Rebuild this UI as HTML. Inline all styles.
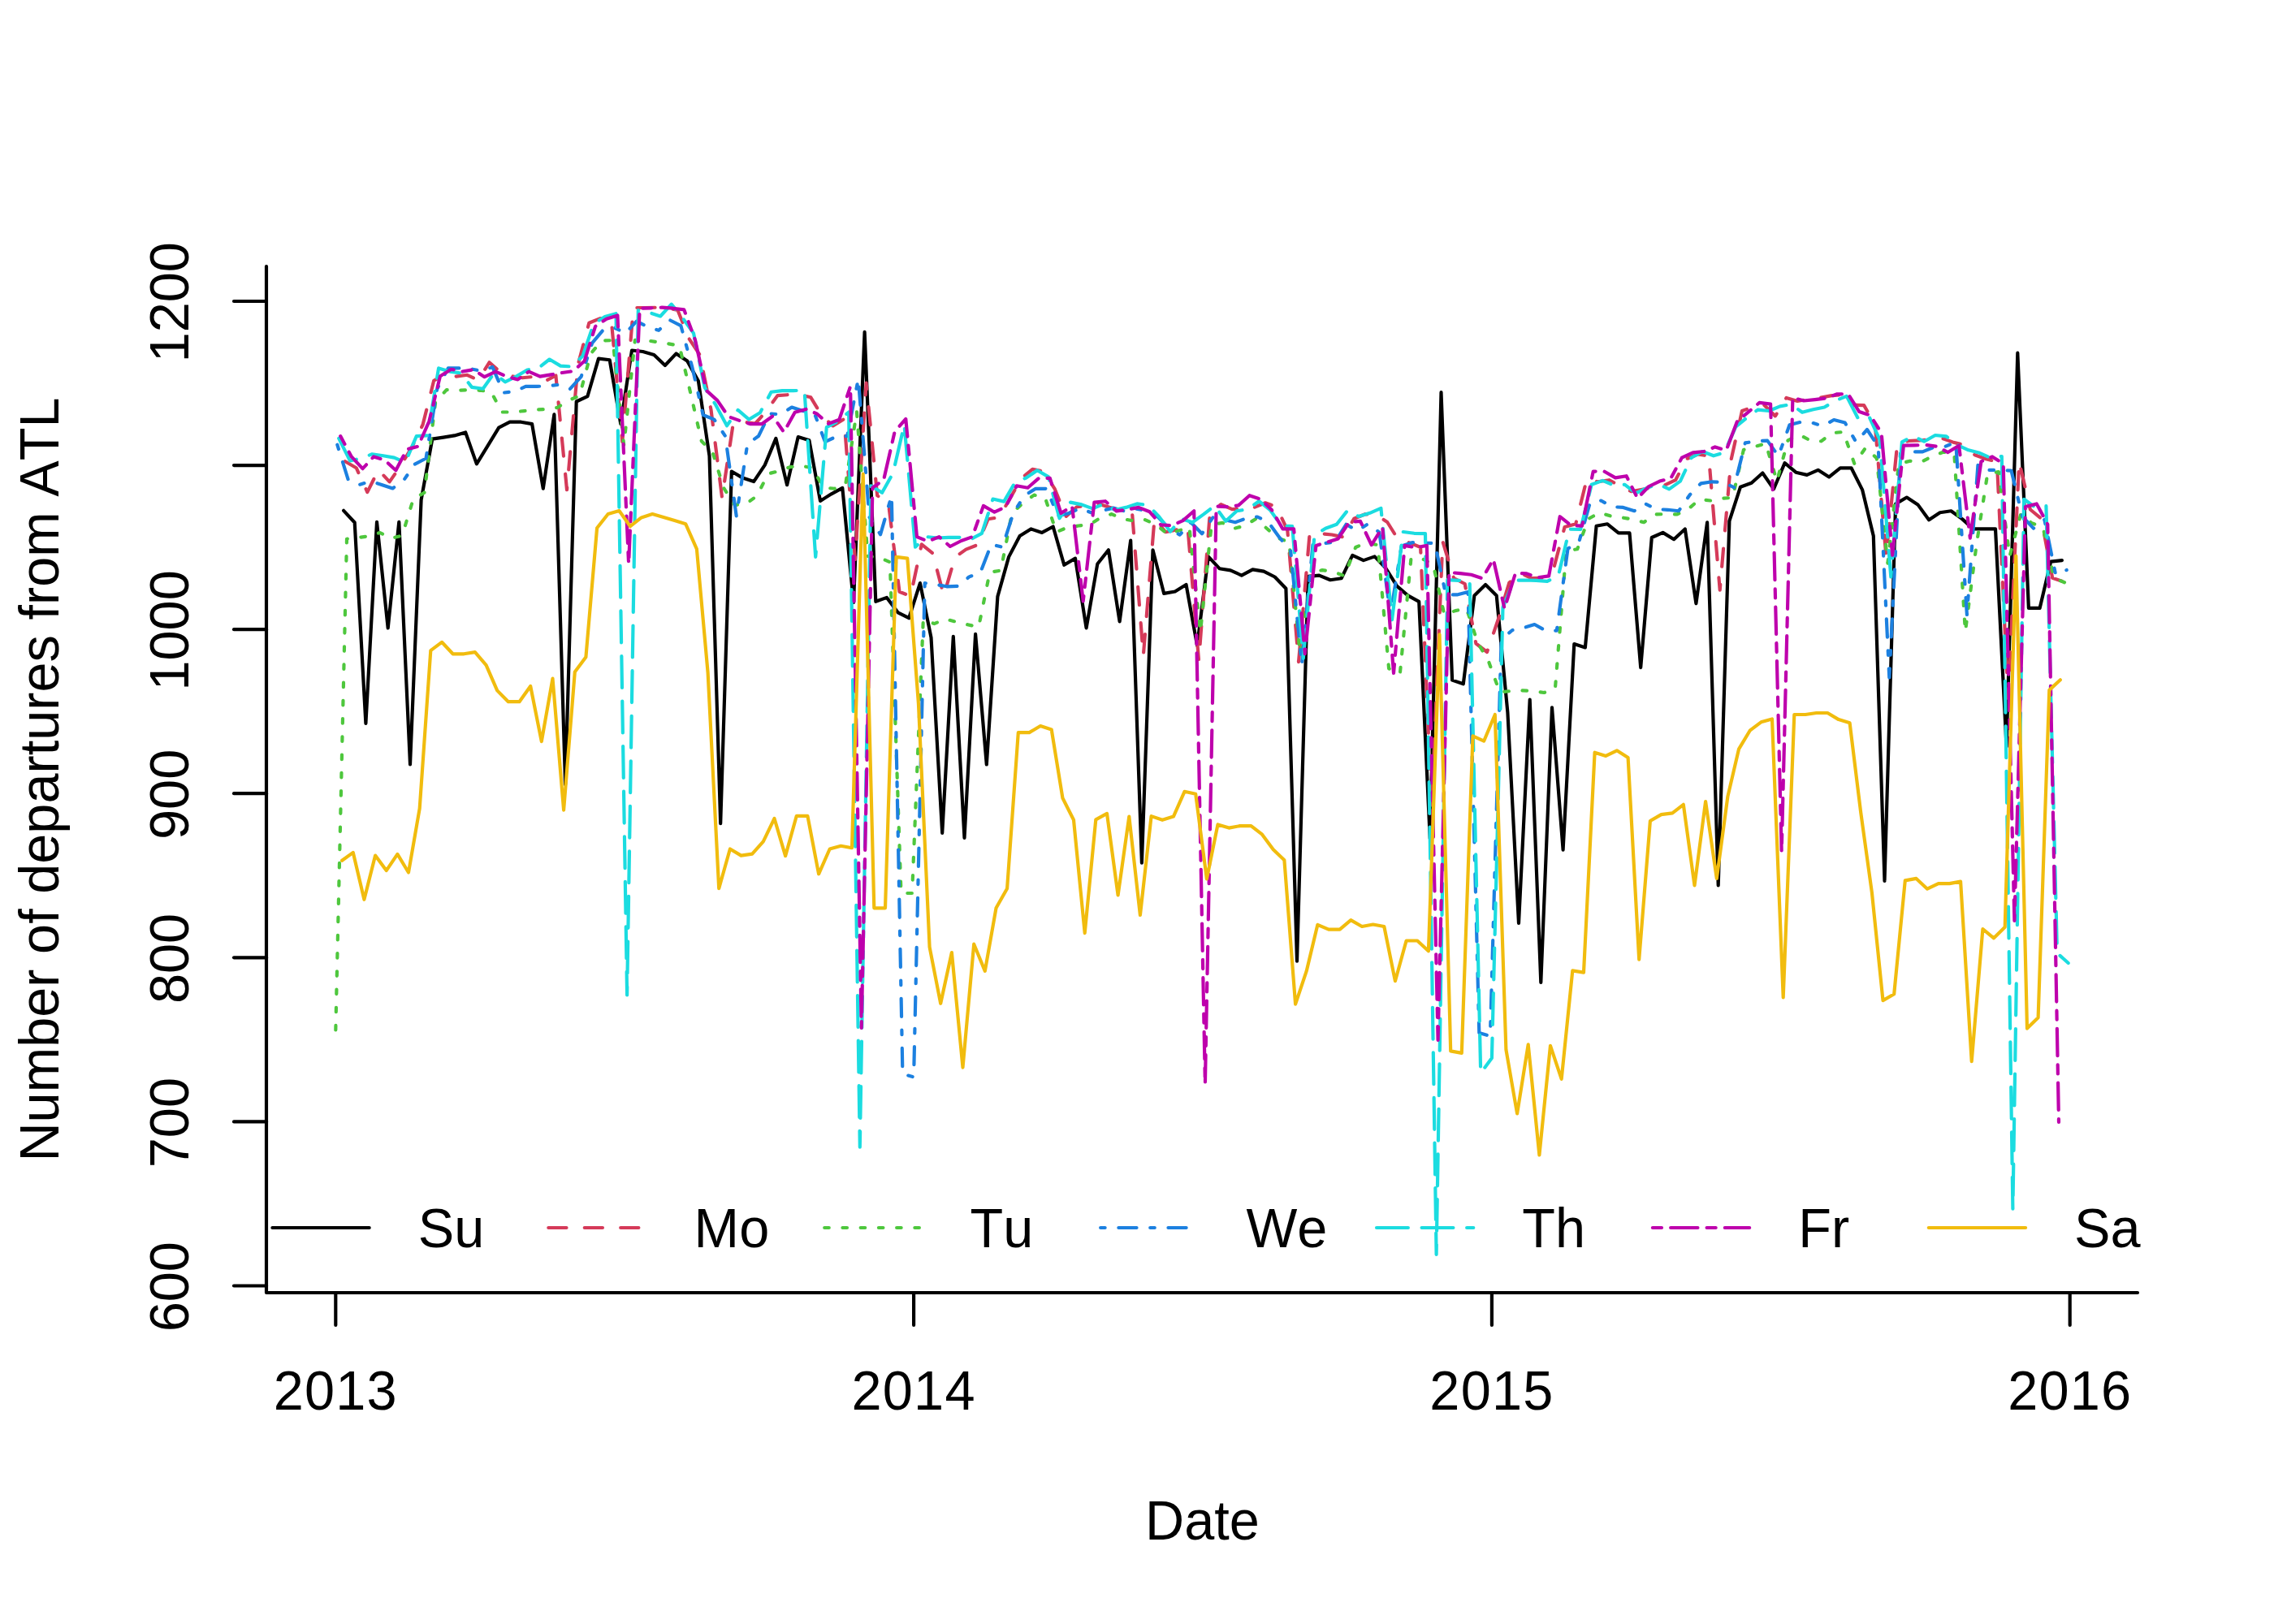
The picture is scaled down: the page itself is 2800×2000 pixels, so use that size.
<!DOCTYPE html>
<html><head><meta charset="utf-8"><title>ATL departures</title>
<style>
html,body{margin:0;padding:0;background:#fff;}
body{width:2800px;height:2000px;overflow:hidden;}
svg{display:block;}
text{font-family:"Liberation Sans",sans-serif;font-size:66.67px;fill:#000;font-kerning:none;}
.ax{stroke:#000;stroke-width:4.17;stroke-linecap:round;stroke-linejoin:round;fill:none;}
.ln{stroke-width:4.17;stroke-linecap:round;stroke-linejoin:round;fill:none;}
</style></head><body>
<svg width="2800" height="2000" viewBox="0 0 2800 2000">
<rect x="0" y="0" width="2800" height="2000" fill="#ffffff"/>
<polyline class="ln" stroke="#000000" points="423.1,628.8 436.7,643.5 450.4,891.0 464.0,642.8 477.7,773.5 491.3,642.8 505.0,941.5 518.6,615.7 532.3,540.6 545.9,538.6 559.6,536.4 573.2,532.5 586.9,571.4 600.5,549.2 614.2,526.6 627.8,519.7 641.5,519.7 655.1,522.1 668.8,601.7 682.4,510.3 696.1,966.2 709.7,494.5 723.4,488.1 737.0,441.6 750.7,443.3 764.3,522.1 778.0,431.5 791.6,433.0 805.3,436.9 818.9,450.0 832.6,435.4 846.2,444.5 859.9,469.2 873.5,561.5 887.2,1014.2 900.8,580.5 914.5,588.6 928.1,593.1 941.8,572.6 955.4,539.9 969.1,597.2 982.7,538.1 996.4,542.3 1010.0,616.9 1023.7,608.3 1037.3,600.9 1051.0,742.0 1064.6,408.8 1078.3,740.8 1091.9,735.9 1105.6,754.3 1119.2,761.2 1132.9,718.1 1146.5,785.1 1160.2,1026.0 1173.8,783.9 1187.5,1031.9 1201.1,780.9 1214.8,941.5 1228.4,734.6 1242.1,685.9 1255.7,660.0 1269.4,651.4 1283.0,655.9 1296.7,648.5 1310.3,695.8 1324.0,687.6 1337.6,773.5 1351.3,694.5 1364.9,677.3 1378.6,765.4 1392.2,665.5 1405.9,1062.7 1419.5,677.3 1433.2,730.9 1446.8,728.5 1460.5,719.9 1474.1,795.0 1487.8,685.4 1501.5,700.2 1515.1,702.4 1528.8,708.6 1542.4,701.4 1556.1,703.6 1569.7,710.5 1583.4,724.8 1597.0,1183.6 1610.7,709.8 1624.3,708.6 1638.0,714.2 1651.6,712.3 1665.3,683.9 1678.9,690.1 1692.6,685.4 1706.2,699.5 1719.9,721.6 1733.5,733.4 1747.2,740.8 1760.8,1032.7 1774.5,483.2 1788.1,837.6 1801.8,842.3 1815.4,733.4 1829.1,719.9 1842.7,733.4 1856.4,877.5 1870.0,1136.8 1883.7,861.5 1897.3,1210.0 1911.0,871.3 1924.6,1046.7 1938.3,793.0 1951.9,797.4 1965.6,647.7 1979.2,645.3 1992.9,656.4 2006.5,656.4 2020.2,822.1 2033.8,662.0 2047.5,655.9 2061.1,664.2 2074.8,651.4 2088.4,743.3 2102.1,643.3 2115.7,1090.5 2129.4,641.6 2143.0,599.7 2156.7,594.8 2170.3,582.5 2184.0,602.2 2197.6,570.1 2211.3,581.7 2224.9,584.9 2238.6,578.8 2252.2,587.4 2265.9,576.3 2279.5,576.3 2293.2,603.4 2306.8,660.0 2320.5,1084.9 2334.1,620.6 2347.8,612.5 2361.4,621.4 2375.1,640.3 2388.7,631.2 2402.4,629.3 2416.0,639.1 2429.7,651.4 2443.3,651.4 2457.0,651.4 2470.6,919.4 2484.3,434.7 2497.9,748.9 2511.6,748.9 2525.2,691.6 2538.9,690.1"/>
<polyline class="ln" stroke="#D53A59" stroke-dasharray="22.22,22.22" points="425.0,568.3 438.7,576.2 452.3,606.1 466.0,578.6 479.6,593.4 493.3,573.7 506.9,551.2 520.6,523.0 534.2,468.8 547.9,461.1 561.5,463.6 575.2,461.8 588.8,468.1 602.5,446.3 616.1,458.3 629.8,463.2 643.4,465.3 657.1,463.9 670.7,469.6 684.4,462.5 698.0,603.2 711.7,449.1 725.3,397.7 739.0,392.1 752.6,392.8 766.3,544.0 779.9,379.0 793.6,379.0 807.2,378.7 820.9,379.0 834.5,381.9 848.2,416.7 861.8,437.1 875.5,504.6 889.1,613.0 902.8,521.5 916.4,519.8 930.1,521.5 943.7,506.1 957.4,487.1 971.0,486.1 984.7,486.1 998.3,489.3 1012.0,512.0 1025.6,524.4 1039.3,516.0 1052.9,689.0 1066.6,471.7 1080.2,610.3 1093.9,619.4 1107.5,728.7 1121.2,734.3 1134.8,670.3 1148.5,681.5 1162.1,733.6 1175.8,686.4 1189.4,676.6 1203.1,671.2 1216.7,639.3 1230.4,637.0 1244.0,613.1 1257.7,589.2 1271.3,577.9 1285.0,580.7 1298.6,601.8 1312.3,636.2 1325.9,624.2 1339.6,622.8 1353.2,620.7 1366.9,624.9 1380.5,628.9 1394.2,633.4 1407.8,807.4 1421.5,639.0 1435.1,655.2 1448.8,652.4 1462.4,648.9 1476.1,813.7 1489.8,631.7 1503.4,621.1 1517.1,627.1 1530.7,626.6 1544.4,624.9 1558.0,619.3 1571.7,624.2 1585.3,653.1 1599.0,815.1 1612.6,657.1 1626.3,657.1 1639.9,658.5 1653.6,661.3 1667.2,638.8 1680.9,633.2 1694.5,633.9 1708.2,643.0 1721.8,664.8 1735.5,668.4 1749.1,674.0 1762.8,995.0 1776.4,666.9 1790.1,712.0 1803.7,719.0 1817.4,792.5 1831.0,803.0 1844.7,763.0 1858.3,717.6 1872.0,705.6 1885.6,712.0 1899.3,711.7 1912.9,700.7 1926.6,648.9 1940.2,645.3 1953.9,589.8 1967.5,593.3 1981.2,591.2 1994.8,598.2 2008.5,605.2 2022.1,602.7 2035.8,600.3 2049.4,597.5 2063.1,591.2 2076.7,565.1 2090.4,559.5 2104.0,561.6 2117.7,726.7 2131.3,567.2 2145.0,506.0 2158.6,501.1 2172.3,499.0 2185.9,512.4 2199.6,489.9 2213.2,493.9 2226.9,491.7 2240.5,489.8 2254.2,487.4 2267.8,486.0 2281.5,498.7 2295.1,499.1 2308.8,523.3 2322.4,685.2 2336.1,547.2 2349.7,543.0 2363.4,542.3 2377.0,541.3 2390.7,539.6 2404.3,544.4 2418.0,548.0 2431.6,560.2 2445.3,565.3 2458.9,568.6 2472.6,860.0 2486.2,568.4 2499.9,627.5 2513.5,638.7 2527.2,711.8 2540.8,716.4"/>
<polyline class="ln" stroke="#4EC73D" stroke-dasharray="5.56,16.67" points="413.3,1268.5 427.0,663.7 440.6,662.1 454.3,660.2 467.9,656.0 481.6,663.0 495.2,659.5 508.9,614.5 522.5,606.8 536.2,494.9 549.8,480.1 563.5,480.8 577.1,480.1 590.8,480.8 604.4,482.2 618.1,507.5 631.7,507.5 645.4,506.1 659.0,504.5 672.7,504.0 686.3,501.9 700.0,493.1 713.6,487.5 727.3,435.7 740.9,419.5 754.6,419.1 768.2,548.3 781.9,418.8 795.5,419.1 809.2,421.3 822.8,423.3 836.5,425.8 850.1,483.3 863.8,543.3 877.4,556.7 891.1,601.0 904.7,621.9 918.4,620.6 932.0,610.8 945.7,583.5 959.3,580.0 973.0,575.1 986.6,573.7 1000.3,576.2 1013.9,600.4 1027.6,601.8 1041.2,596.2 1054.9,506.8 1068.5,685.0 1082.2,686.4 1095.8,692.3 1109.5,1100.0 1123.1,1100.0 1136.8,763.1 1150.4,768.1 1164.1,762.4 1177.7,765.9 1191.4,769.2 1205.0,772.3 1218.7,704.7 1232.3,702.6 1246.0,632.1 1259.6,619.4 1273.3,609.6 1286.9,613.1 1300.6,655.2 1314.2,649.6 1327.9,647.5 1341.5,646.1 1355.2,637.6 1368.8,633.1 1382.5,639.0 1396.1,641.5 1409.8,640.1 1423.4,646.1 1437.1,657.3 1450.7,653.8 1464.4,648.9 1478.0,778.5 1491.7,646.1 1505.4,643.9 1519.0,651.0 1532.7,647.5 1546.3,639.0 1560.0,651.0 1573.6,662.9 1587.3,667.2 1600.9,806.6 1614.6,704.9 1628.2,702.1 1641.9,704.2 1655.5,709.2 1669.2,674.0 1682.8,668.4 1696.5,671.2 1710.1,823.3 1723.8,829.7 1737.4,688.1 1751.1,688.1 1764.7,695.1 1778.4,757.0 1792.0,752.1 1805.7,749.3 1819.3,791.0 1833.0,814.7 1846.6,852.4 1860.3,851.0 1873.9,850.4 1887.6,851.0 1901.2,853.0 1914.9,848.0 1928.5,678.4 1942.2,676.3 1955.8,639.0 1969.5,631.3 1983.1,635.5 1996.8,637.3 2010.4,639.7 2024.1,643.2 2037.7,633.4 2051.4,633.1 2065.0,633.4 2078.7,627.1 2092.3,615.1 2106.0,616.5 2119.6,613.7 2133.3,613.0 2146.9,553.9 2160.6,550.1 2174.2,546.1 2187.9,592.6 2201.5,542.3 2215.2,535.3 2228.8,542.3 2242.5,543.3 2256.1,533.2 2269.8,532.0 2283.4,571.2 2297.1,551.5 2310.7,564.1 2324.4,693.6 2338.0,571.2 2351.7,567.7 2365.3,569.1 2379.0,562.0 2392.6,556.8 2406.3,558.5 2419.9,778.0 2433.6,671.1 2447.2,583.8 2460.9,581.0 2474.5,685.2 2488.2,633.1 2501.8,644.3 2515.5,649.3 2529.1,711.8 2542.8,717.6"/>
<polyline class="ln" stroke="#1C80E0" stroke-dasharray="5.56,16.67,22.22,16.67" points="415.3,547.7 428.9,591.3 442.6,596.9 456.2,592.7 469.9,596.9 483.5,601.5 497.2,591.3 510.8,571.6 524.5,564.5 538.1,479.4 551.8,453.4 565.4,453.4 579.1,454.1 592.7,456.9 606.4,452.0 620.0,483.6 633.7,482.2 647.3,475.9 661.0,475.9 674.6,475.2 688.3,473.8 701.9,479.0 715.6,463.8 729.2,422.3 742.9,406.1 756.5,403.6 770.2,410.4 783.8,395.6 797.5,402.6 811.1,406.8 824.8,394.2 838.4,401.2 852.1,451.2 865.7,511.0 879.4,516.6 893.0,537.0 906.7,635.4 920.3,546.9 934.0,537.0 947.6,509.6 961.3,510.3 974.9,501.5 988.6,506.1 1002.2,507.3 1015.9,544.1 1029.5,537.8 1043.2,537.1 1056.8,466.7 1070.5,637.0 1084.1,658.3 1097.8,610.3 1111.4,1322.7 1125.1,1326.4 1138.7,718.1 1152.4,719.9 1166.0,722.3 1179.7,721.9 1193.3,710.4 1207.0,705.4 1220.6,670.3 1234.3,673.8 1247.9,631.4 1261.6,610.3 1275.2,601.8 1288.9,601.8 1302.5,635.5 1316.2,632.0 1329.8,626.1 1343.5,631.3 1357.1,628.9 1370.8,625.6 1384.4,629.4 1398.1,626.4 1411.7,629.2 1425.4,636.2 1439.0,650.3 1452.7,658.7 1466.3,643.2 1480.0,657.3 1493.7,636.9 1507.3,640.1 1521.0,643.2 1534.6,638.3 1548.3,636.5 1561.9,643.2 1575.6,662.2 1589.2,678.4 1602.9,818.6 1616.5,670.5 1630.2,669.1 1643.8,667.7 1657.5,645.8 1671.1,653.6 1684.8,645.1 1698.4,655.7 1712.1,757.0 1725.7,672.6 1739.4,668.1 1753.0,668.6 1766.7,669.1 1780.3,732.4 1794.0,732.4 1807.6,728.9 1821.3,1272.0 1834.9,1276.0 1848.6,787.5 1862.2,776.0 1875.9,773.2 1889.5,769.0 1903.2,776.7 1916.8,776.7 1930.5,675.6 1944.1,667.9 1957.8,619.3 1971.4,616.5 1985.1,624.2 1998.7,624.9 2012.4,629.2 2026.0,620.4 2039.7,627.1 2053.3,627.8 2067.0,629.2 2080.6,609.5 2094.3,595.4 2107.9,593.3 2121.6,594.0 2135.2,600.3 2148.9,545.4 2162.5,543.3 2176.2,542.6 2189.8,561.6 2203.5,523.3 2217.1,519.8 2230.8,520.5 2244.4,524.7 2258.1,517.0 2271.7,520.5 2285.4,544.4 2299.0,529.0 2312.7,550.1 2326.3,834.5 2340.0,558.5 2353.6,556.4 2367.3,556.4 2380.9,550.8 2394.6,550.1 2408.2,544.4 2421.9,757.0 2435.5,571.9 2449.2,578.9 2462.8,578.9 2476.5,579.6 2490.1,635.9 2503.8,650.7 2517.4,640.0 2531.1,707.5 2544.7,702.0"/>
<polyline class="ln" stroke="#1BDCE0" stroke-dasharray="38.89,16.67" points="417.2,539.9 430.9,567.4 444.5,564.5 458.2,559.3 471.8,561.3 485.5,563.6 499.1,569.5 512.8,537.1 526.4,536.4 540.1,453.4 553.7,457.6 567.4,459.4 581.0,476.9 594.7,478.7 608.3,459.7 622.0,470.3 635.6,463.6 649.3,455.5 662.9,453.4 676.6,442.5 690.2,450.6 703.9,451.5 717.5,438.5 731.2,398.4 744.8,390.1 758.5,386.2 772.1,1225.4 785.8,382.2 799.4,385.0 813.1,389.5 826.7,374.6 840.4,391.4 854.0,410.4 867.7,477.2 881.3,498.7 895.0,524.3 908.6,504.9 922.3,516.6 935.9,508.2 949.6,482.8 963.2,481.1 976.9,481.1 990.5,480.7 1004.2,685.9 1017.8,526.1 1031.5,519.1 1045.1,507.5 1058.8,1412.6 1072.4,598.3 1086.1,606.8 1099.7,582.4 1113.4,523.0 1127.0,673.7 1140.7,661.1 1154.3,662.5 1168.0,661.8 1181.6,661.8 1195.3,664.2 1208.9,656.9 1222.6,614.5 1236.2,617.6 1249.9,594.1 1263.5,588.5 1277.2,579.3 1290.8,587.1 1304.5,638.3 1318.1,618.6 1331.8,621.4 1345.4,626.4 1359.1,620.7 1372.7,628.0 1386.4,624.9 1400.0,620.4 1413.7,622.1 1427.3,636.5 1441.0,654.5 1454.6,639.0 1468.3,643.2 1482.0,633.4 1495.6,622.8 1509.3,641.8 1522.9,629.2 1536.6,627.1 1550.2,617.2 1563.9,628.0 1577.5,647.2 1591.2,648.2 1604.8,810.9 1618.5,659.2 1632.1,650.8 1645.8,645.8 1659.4,628.5 1673.1,636.0 1686.7,631.8 1700.4,625.9 1714.0,763.3 1727.7,655.0 1741.3,656.8 1755.0,657.1 1768.6,1545.0 1782.3,714.1 1795.9,714.8 1809.6,714.8 1823.2,1321.5 1836.9,1303.0 1850.5,747.9 1864.2,714.8 1877.8,714.5 1891.5,714.8 1905.1,715.9 1918.8,709.1 1932.4,651.7 1946.1,652.0 1959.7,596.8 1973.4,591.9 1987.0,597.5 2000.7,596.8 2014.3,607.4 2028.0,601.0 2041.6,596.1 2055.3,602.4 2068.9,592.6 2082.6,563.7 2096.2,556.0 2109.9,561.3 2123.5,557.1 2137.2,525.7 2150.8,514.5 2164.5,504.6 2178.1,506.0 2191.8,500.4 2205.4,498.0 2219.1,507.8 2232.7,504.3 2246.4,501.5 2260.0,493.5 2273.7,487.9 2287.3,514.2 2301.0,512.1 2314.6,541.6 2328.3,710.5 2341.9,544.4 2355.6,537.1 2369.2,543.7 2382.9,536.0 2396.5,537.4 2410.2,548.0 2423.8,554.3 2437.5,557.8 2451.1,563.9 2464.8,562.0 2478.4,1489.0 2492.1,614.8 2505.7,624.6 2519.4,622.5 2533.0,1173.7 2546.7,1186.0"/>
<polyline class="ln" stroke="#BE00AC" stroke-dasharray="11.11,11.11,33.34,11.11" points="419.2,537.1 432.8,562.4 446.5,577.2 460.1,562.4 473.8,566.6 487.4,579.3 501.1,553.3 514.7,549.8 528.4,518.8 542.0,463.2 555.7,454.8 569.3,457.6 583.0,455.2 596.6,464.2 610.3,457.6 623.9,463.6 637.6,467.4 651.2,457.6 664.9,463.6 678.5,461.4 692.2,459.0 705.8,457.1 719.5,444.8 733.1,401.9 746.8,392.8 760.4,388.5 774.1,694.5 787.7,379.7 801.4,379.3 815.0,378.7 828.7,379.7 842.3,381.4 856.0,418.8 869.6,480.7 883.3,493.1 896.9,513.1 910.6,518.0 924.2,522.2 937.9,522.2 951.5,512.4 965.2,532.1 978.8,507.7 992.5,503.9 1006.1,509.7 1019.8,521.9 1033.4,516.7 1047.1,475.9 1060.7,1266.0 1074.4,600.4 1088.0,591.3 1101.7,531.5 1115.3,516.0 1129.0,661.1 1142.6,666.7 1156.3,661.1 1169.9,673.0 1183.6,666.0 1197.2,661.1 1210.9,622.9 1224.5,630.7 1238.2,624.3 1251.8,598.3 1265.5,600.7 1279.1,588.9 1292.8,588.9 1306.4,632.0 1320.1,623.5 1333.7,740.5 1347.4,618.6 1361.0,617.2 1374.7,629.4 1388.3,627.5 1402.0,624.9 1415.6,630.3 1429.3,646.3 1442.9,647.2 1456.6,641.1 1470.2,629.2 1483.9,1335.0 1497.6,623.5 1511.2,624.2 1524.9,622.4 1538.5,610.2 1552.2,614.8 1565.8,627.8 1579.5,651.4 1593.1,651.4 1606.8,805.2 1620.4,671.9 1634.1,667.7 1647.7,663.4 1661.4,643.0 1675.0,641.9 1688.7,671.2 1702.3,649.4 1716.0,829.0 1729.6,671.9 1743.3,674.3 1756.9,671.9 1770.6,1281.0 1784.2,704.9 1797.9,706.1 1811.5,707.8 1825.2,712.3 1838.8,688.8 1852.5,749.3 1866.1,705.6 1879.8,706.4 1893.4,711.3 1907.1,709.4 1920.7,636.2 1934.4,647.0 1948.0,647.7 1961.7,580.6 1975.3,580.6 1989.0,588.4 2002.6,586.2 2016.3,613.7 2029.9,599.3 2043.6,592.6 2057.2,589.1 2070.9,563.7 2084.5,557.4 2098.2,556.0 2111.8,550.4 2125.5,554.6 2139.1,518.7 2152.8,507.4 2166.4,495.9 2180.1,497.6 2193.7,1048.6 2207.4,489.8 2221.0,493.5 2234.7,492.1 2248.3,490.5 2262.0,485.3 2275.6,485.3 2289.3,507.1 2302.9,511.4 2316.6,533.2 2330.2,683.7 2343.9,548.7 2357.5,548.4 2371.2,548.0 2384.8,549.8 2398.5,557.1 2412.1,548.7 2425.8,662.6 2439.4,568.4 2453.1,562.4 2466.7,571.2 2480.4,1134.0 2494.0,623.9 2507.7,620.4 2521.3,645.8 2535.0,1381.9"/>
<polyline class="ln" stroke="#F1BC0E" points="421.1,1059.8 434.8,1049.9 448.4,1107.8 462.1,1053.6 475.7,1072.1 489.4,1051.9 503.0,1074.5 516.7,995.7 530.3,801.1 544.0,790.8 557.6,805.3 571.3,805.3 584.9,803.1 598.6,819.1 612.2,850.4 625.9,864.2 639.5,864.2 653.2,845.0 666.8,913.2 680.5,835.6 694.1,997.7 707.8,827.5 721.4,809.3 735.1,650.2 748.7,633.0 762.4,629.0 776.0,648.2 789.7,637.4 803.3,633.0 817.0,637.1 830.6,641.1 844.3,645.3 857.9,676.1 871.6,828.2 885.2,1094.2 898.9,1045.5 912.5,1053.6 926.2,1051.6 939.8,1036.4 953.5,1008.0 967.1,1054.1 980.8,1004.8 994.4,1004.8 1008.1,1076.3 1021.7,1045.5 1035.4,1041.8 1049.0,1044.2 1062.7,583.7 1076.3,1118.3 1090.0,1118.3 1103.6,685.9 1117.3,687.6 1130.9,866.0 1144.6,1166.4 1158.2,1235.8 1171.9,1173.0 1185.5,1314.6 1199.2,1162.7 1212.8,1195.9 1226.5,1118.3 1240.1,1094.2 1253.8,902.1 1267.4,902.1 1281.1,894.0 1294.7,898.4 1308.4,982.7 1322.0,1009.8 1335.7,1149.1 1349.3,1009.3 1363.0,1001.9 1376.6,1102.4 1390.3,1005.6 1403.9,1126.9 1417.6,1005.1 1431.2,1009.8 1444.9,1005.6 1458.5,974.8 1472.2,977.7 1485.9,1082.4 1499.5,1015.4 1513.2,1019.6 1526.8,1017.1 1540.5,1017.1 1554.1,1027.7 1567.8,1046.2 1581.4,1059.3 1595.1,1236.6 1608.7,1195.9 1622.4,1138.8 1636.0,1144.7 1649.7,1144.7 1663.3,1133.1 1677.0,1141.0 1690.6,1138.5 1704.3,1141.0 1717.9,1208.2 1731.6,1158.5 1745.2,1158.5 1758.9,1171.3 1772.5,781.4 1786.2,1294.4 1799.8,1296.9 1813.5,906.3 1827.1,912.7 1840.8,880.0 1854.4,1292.7 1868.1,1371.5 1881.7,1286.3 1895.4,1422.5 1909.0,1287.8 1922.7,1328.9 1936.3,1195.4 1950.0,1197.6 1963.6,926.7 1977.3,930.9 1990.9,924.3 2004.6,932.9 2018.2,1181.6 2031.9,1011.0 2045.5,1003.1 2059.2,1001.4 2072.8,990.8 2086.5,1090.5 2100.1,987.1 2113.8,1081.9 2127.4,980.9 2141.1,922.3 2154.7,899.7 2168.4,889.3 2182.0,885.4 2195.7,1228.4 2209.3,880.0 2223.0,880.0 2236.6,878.0 2250.3,878.0 2263.9,886.1 2277.6,890.3 2291.2,1000.6 2304.9,1099.2 2318.5,1232.1 2332.2,1224.2 2345.8,1084.4 2359.5,1081.9 2373.1,1094.7 2386.8,1088.1 2400.4,1088.1 2414.1,1085.6 2427.7,1307.2 2441.4,1144.2 2455.0,1155.3 2468.7,1141.7 2482.3,684.7 2496.0,1266.6 2509.6,1253.3 2523.3,849.9 2536.9,837.3"/>
<polyline class="ax" points="328,328 328,1592 2632,1592"/>
<line class="ax" x1="413.3" y1="1592" x2="413.3" y2="1632"/>
<line class="ax" x1="1125.1" y1="1592" x2="1125.1" y2="1632"/>
<line class="ax" x1="1836.9" y1="1592" x2="1836.9" y2="1632"/>
<line class="ax" x1="2548.7" y1="1592" x2="2548.7" y2="1632"/>
<line class="ax" x1="413.3" y1="1592" x2="2548.7" y2="1592"/>
<text transform="translate(413.3,1736) scale(1,1.04)" text-anchor="middle" letter-spacing="1.2">2013</text>
<text transform="translate(1125.1,1736) scale(1,1.04)" text-anchor="middle" letter-spacing="1.2">2014</text>
<text transform="translate(1836.9,1736) scale(1,1.04)" text-anchor="middle" letter-spacing="1.2">2015</text>
<text transform="translate(2548.7,1736) scale(1,1.04)" text-anchor="middle" letter-spacing="1.2">2016</text>
<line class="ax" x1="288" y1="371.0" x2="328" y2="371.0"/>
<line class="ax" x1="288" y1="573.1" x2="328" y2="573.1"/>
<line class="ax" x1="288" y1="775.2" x2="328" y2="775.2"/>
<line class="ax" x1="288" y1="977.2" x2="328" y2="977.2"/>
<line class="ax" x1="288" y1="1179.3" x2="328" y2="1179.3"/>
<line class="ax" x1="288" y1="1381.4" x2="328" y2="1381.4"/>
<line class="ax" x1="288" y1="1583.5" x2="328" y2="1583.5"/>
<text transform="translate(232.3,372.2) rotate(-90) scale(1,1.04)" text-anchor="middle">1200</text>
<text transform="translate(232.3,776.4) rotate(-90) scale(1,1.04)" text-anchor="middle">1000</text>
<text transform="translate(232.3,978.4) rotate(-90) scale(1,1.04)" text-anchor="middle">900</text>
<text transform="translate(232.3,1180.5) rotate(-90) scale(1,1.04)" text-anchor="middle">800</text>
<text transform="translate(232.3,1382.6) rotate(-90) scale(1,1.04)" text-anchor="middle">700</text>
<text transform="translate(232.3,1584.7) rotate(-90) scale(1,1.04)" text-anchor="middle">600</text>
<text transform="translate(1480.5,1896) scale(1,1.025)" text-anchor="middle">Date</text>
<text transform="translate(72,960) rotate(-90) scale(1,1.025)" text-anchor="middle">Number of departures from ATL</text>
<line class="ln" stroke="#000000" x1="335.4" y1="1512" x2="454.7" y2="1512"/>
<text transform="translate(514.7,1536) scale(1,1.025)">Su</text>
<line class="ln" stroke="#D53A59" stroke-dasharray="22.22,22.22" x1="675.3" y1="1512" x2="794.6" y2="1512"/>
<text transform="translate(854.6,1536) scale(1,1.025)">Mo</text>
<line class="ln" stroke="#4EC73D" stroke-dasharray="5.56,16.67" x1="1015.2" y1="1512" x2="1134.5" y2="1512"/>
<text transform="translate(1194.5,1536) scale(1,1.025)">Tu</text>
<line class="ln" stroke="#1C80E0" stroke-dasharray="5.56,16.67,22.22,16.67" x1="1355.1" y1="1512" x2="1474.4" y2="1512"/>
<text transform="translate(1534.4,1536) scale(1,1.025)">We</text>
<line class="ln" stroke="#1BDCE0" stroke-dasharray="38.89,16.67" x1="1695.0" y1="1512" x2="1814.3" y2="1512"/>
<text transform="translate(1874.3,1536) scale(1,1.025)">Th</text>
<line class="ln" stroke="#BE00AC" stroke-dasharray="11.11,11.11,33.34,11.11" x1="2034.9" y1="1512" x2="2154.2" y2="1512"/>
<text transform="translate(2214.2,1536) scale(1,1.025)">Fr</text>
<line class="ln" stroke="#F1BC0E" x1="2374.8" y1="1512" x2="2494.1" y2="1512"/>
<text transform="translate(2554.1,1536) scale(1,1.025)">Sa</text>
</svg>
</body></html>
